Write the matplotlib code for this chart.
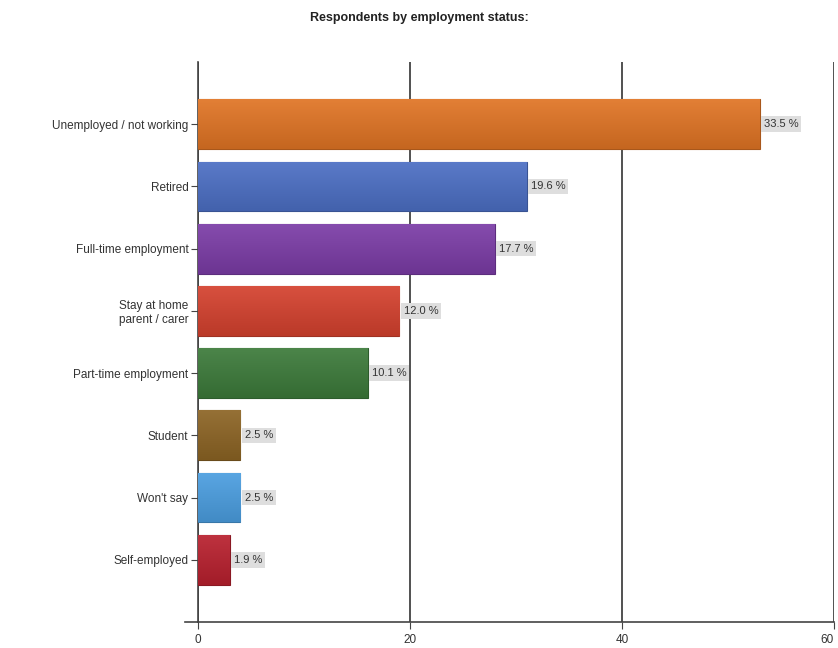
import numpy as np
import matplotlib
matplotlib.use('Agg')
import matplotlib.pyplot as plt
from matplotlib.colors import to_rgb

# Respondents by employment status (counts and share of total)
categories = ['Unemployed / not working', 'Retired', 'Full-time employment',
              'Stay at home\nparent / carer', 'Part-time employment', 'Student',
              "Won't say", 'Self-employed']
counts = [53, 31, 28, 19, 16, 4, 4, 3]
shares = ['33.5 %', '19.6 %', '17.7 %', '12.0 %', '10.1 %', '2.5 %', '2.5 %', '1.9 %']
colors = ['#e07424', '#4c6fc4', '#7b3ca6', '#d4412e', '#3c7a3a', '#8c6424', '#4b9ee0', '#b8202e']

plt.rcParams['font.family'] = ['Liberation Sans', 'DejaVu Sans']

fig = plt.figure(figsize=(8.38, 6.48), dpi=100)
ax = fig.add_axes([0.2363, 0.0401, 0.7589, 0.8642])

n = len(categories)
ypos = np.arange(n)[::-1]
bar_h = 0.8

def shade(c, f):
    r = np.array(to_rgb(c))
    if f >= 0:
        return r + (1 - r) * f
    return r * (1 + f)

for y, v, c, s in zip(ypos, counts, colors, shares):
    bar = ax.barh(y, v, height=bar_h, color=c, edgecolor=shade(c, -0.25),
                  linewidth=0.8, zorder=3)[0]
    # vertical gradient: lighter on top, darker below
    t = np.linspace(0, 1, 64)[:, None]
    top, bot = shade(c, 0.08), shade(c, -0.12)
    grad = (top[None, None, :] * (1 - t[..., None]) + bot[None, None, :] * t[..., None])
    im = ax.imshow(grad, extent=[0, v, y - bar_h / 2, y + bar_h / 2],
                   aspect='auto', origin='upper', zorder=3.5, interpolation='bilinear')
    im.set_clip_path(bar)
    ax.text(v + 0.4, y, s, va='center', ha='left', fontsize=8, color='#333333',
            zorder=5, bbox=dict(boxstyle='square,pad=0.25', fc='#dedede', ec='none'))

ax.set_xlim(0, 60)
ax.set_ylim(-1, n)
ax.set_xticks([0, 20, 40, 60])
ax.set_xticklabels(['0', '20', '40', '60'])
ax.set_yticks(ypos)
ax.set_yticklabels(categories, fontsize=8.5, color='#333333')
ax.tick_params(axis='x', labelsize=8.5, labelcolor='#333333', length=5, color='#444444')
ax.tick_params(axis='y', length=5, color='#444444', pad=2)
ax.get_xticklabels()[-1].set_horizontalalignment('right')
ax.xaxis.grid(True, color='#333333', linewidth=1.2, zorder=1)
ax.set_axisbelow(True)
for side in ['top', 'right']:
    ax.spines[side].set_visible(False)
ax.spines['left'].set_color('#444444')
ax.spines['bottom'].set_color('#444444')
ax.spines['left'].set_linewidth(1.2)
ax.spines['bottom'].set_linewidth(1.2)
# baseline runs a little past the value axis on the left
ax.plot([-1.2, 0], [-1, -1], color='#444444', lw=1.2, clip_on=False, zorder=2)

fig.text(0.5, 0.972, 'Respondents by employment status:', ha='center', va='center',
         fontsize=9, fontweight='bold', color='#222222')

fig.savefig('out.png', dpi=100)
